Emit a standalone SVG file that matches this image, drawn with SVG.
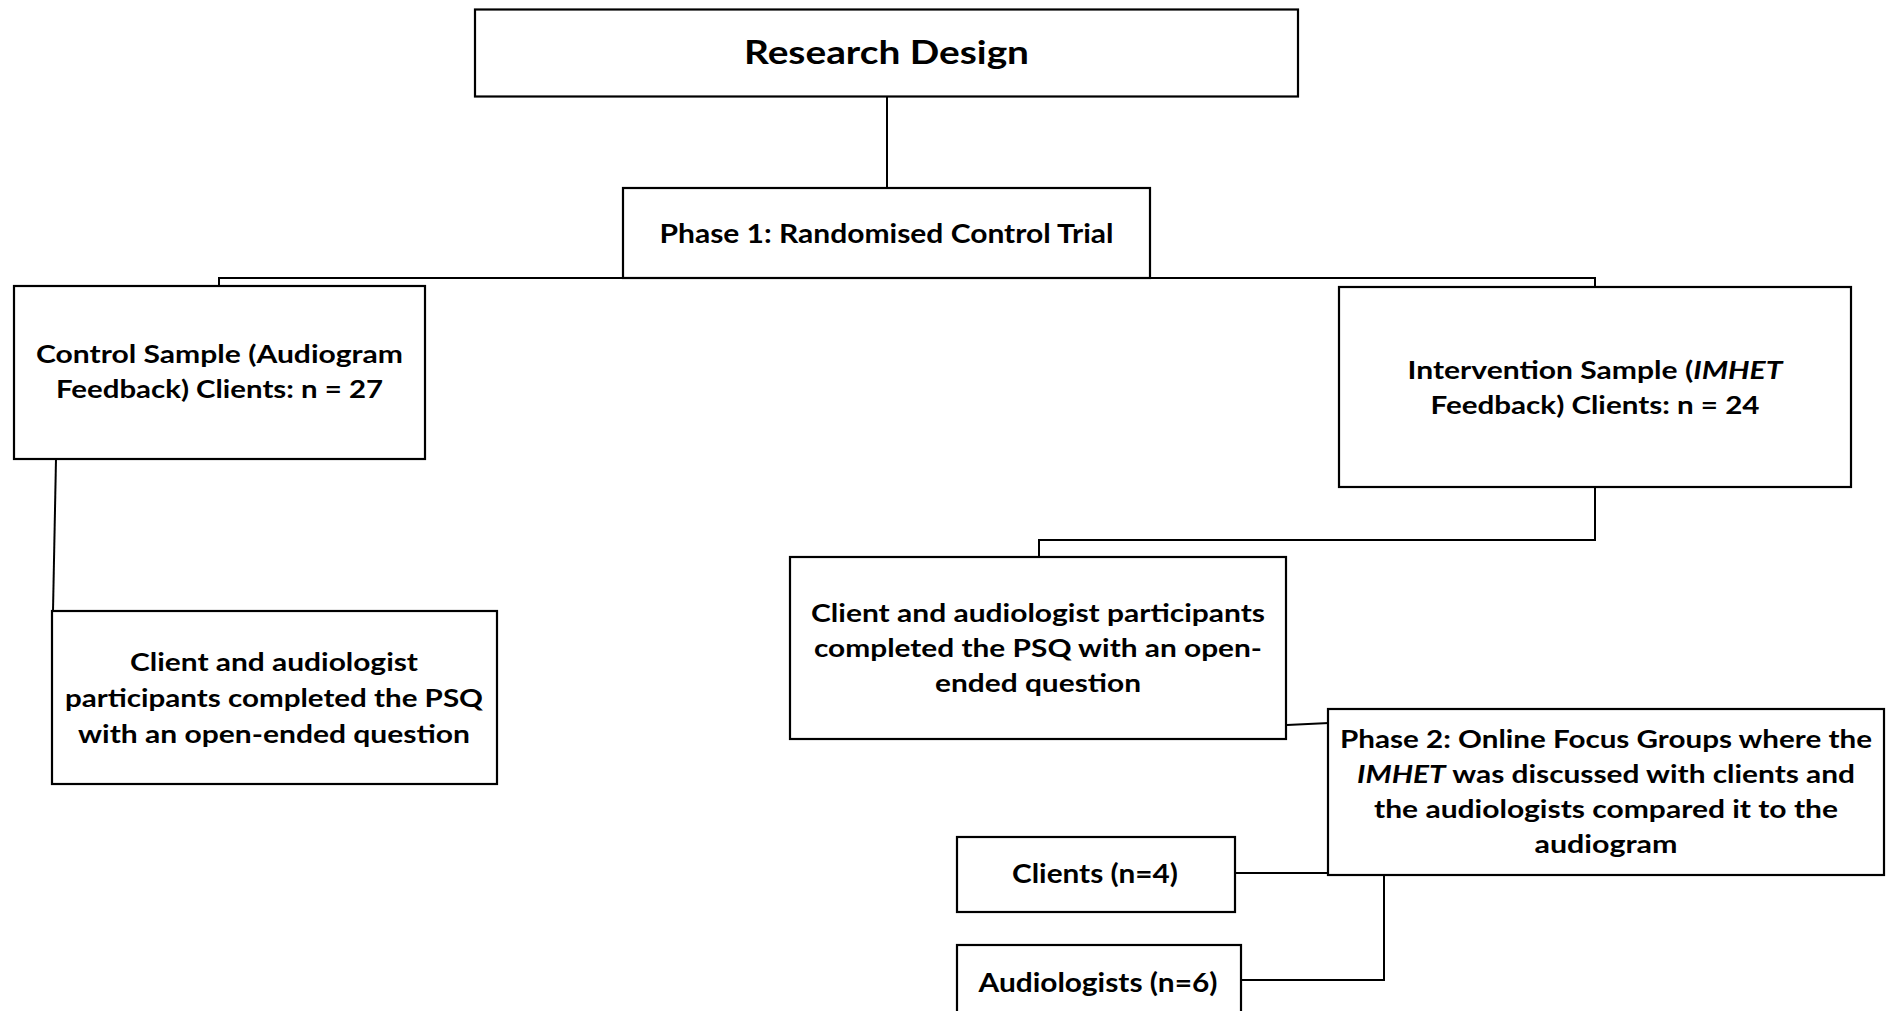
<svg xmlns="http://www.w3.org/2000/svg" width="1890" height="1011" viewBox="0 0 1890 1011">
<style>
.box{fill:#fff;stroke:#000;stroke-width:2.2}
.conn{fill:none;stroke:#000;stroke-width:2}
text{font-family:Lato,"Liberation Sans",sans-serif;font-weight:bold;fill:#000;text-anchor:middle}
.t{font-size:24px}
.big{font-size:26px}
.title{font-size:33px}
.i{font-style:italic}
</style>
<rect width="1890" height="1011" fill="#fff"/>
<g id="connectors">
<path class="conn" d="M887 97V188"/>
<path class="conn" d="M219 286V278H1595V287"/>
<path class="conn" d="M56 459L53 611"/>
<path class="conn" d="M1595 487V540H1039V557"/>
<path class="conn" d="M1287 725L1329 723"/>
<path class="conn" d="M1235 873H1328"/>
<path class="conn" d="M1384 875V980H1241"/>
</g>
<g id="research-design">
<rect class="box" x="475" y="9.5" width="823" height="87"/>
<text class="title" x="886.5" y="64" textLength="285" lengthAdjust="spacingAndGlyphs">Research Design</text>
</g>
<g id="phase1">
<rect class="box" x="623" y="188" width="527" height="90"/>
<text class="big" x="886.5" y="243" textLength="454" lengthAdjust="spacingAndGlyphs">Phase 1: Randomised Control Trial</text>
</g>
<g id="control-sample">
<rect class="box" x="14" y="286" width="411" height="173"/>
<text class="t" x="219.5" y="363" textLength="367" lengthAdjust="spacingAndGlyphs">Control Sample (Audiogram</text>
<text class="t" x="219.5" y="398" textLength="327" lengthAdjust="spacingAndGlyphs">Feedback) Clients: n = 27</text>
</g>
<g id="control-psq">
<rect class="box" x="52" y="611" width="445" height="173"/>
<text class="t" x="274" y="671" textLength="288" lengthAdjust="spacingAndGlyphs">Client and audiologist</text>
<text class="t" x="274" y="707" textLength="418" lengthAdjust="spacingAndGlyphs">participants completed the PSQ</text>
<text class="t" x="274" y="743" textLength="392" lengthAdjust="spacingAndGlyphs">with an open-ended question</text>
</g>
<g id="intervention-sample">
<rect class="box" x="1339" y="287" width="512" height="200"/>
<text class="t" x="1595" y="379" textLength="375" lengthAdjust="spacingAndGlyphs">Intervention Sample (<tspan class="i">IMHET</tspan></text>
<text class="t" x="1595" y="414" textLength="329" lengthAdjust="spacingAndGlyphs">Feedback) Clients: n = 24</text>
</g>
<g id="intervention-psq">
<rect class="box" x="790" y="557" width="496" height="182"/>
<text class="t" x="1038" y="622" textLength="454" lengthAdjust="spacingAndGlyphs">Client and audiologist participants</text>
<text class="t" x="1038" y="657" textLength="448" lengthAdjust="spacingAndGlyphs">completed the PSQ with an open-</text>
<text class="t" x="1038" y="692" textLength="206" lengthAdjust="spacingAndGlyphs">ended question</text>
</g>
<g id="phase2">
<rect class="box" x="1328" y="709" width="556" height="166"/>
<text class="t" x="1606" y="748" textLength="532" lengthAdjust="spacingAndGlyphs">Phase 2: Online Focus Groups where the</text>
<text class="t" x="1606" y="783" textLength="498" lengthAdjust="spacingAndGlyphs"><tspan class="i">IMHET</tspan> was discussed with clients and</text>
<text class="t" x="1606" y="818" textLength="464" lengthAdjust="spacingAndGlyphs">the audiologists compared it to the</text>
<text class="t" x="1606" y="853" textLength="143" lengthAdjust="spacingAndGlyphs">audiogram</text>
</g>
<g id="clients">
<rect class="box" x="957" y="837" width="278" height="75"/>
<text class="big" x="1095" y="883" textLength="166" lengthAdjust="spacingAndGlyphs">Clients (n=4)</text>
</g>
<g id="audiologists">
<rect class="box" x="957" y="945" width="284" height="75"/>
<text class="big" x="1098" y="992" textLength="239" lengthAdjust="spacingAndGlyphs">Audiologists (n=6)</text>
</g>
</svg>
